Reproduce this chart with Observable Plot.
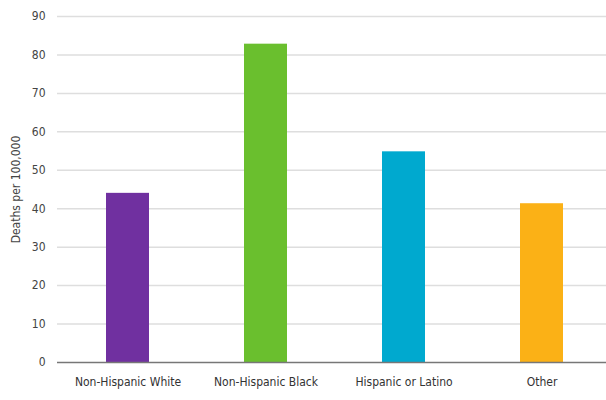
<!DOCTYPE html>
<html><head><meta charset="utf-8">
<script src="https://cdn.jsdelivr.net/npm/d3@7"></script>
<script src="https://cdn.jsdelivr.net/npm/@observablehq/plot@0.6"></script>
<style>
body{margin:0;background:#fff;}
svg{font-family:"Liberation Sans Narrow","DejaVu Sans Condensed",sans-serif;}
</style></head>
<body><div id="chart"></div>
<script>
const groups = ["Non-Hispanic White","Non-Hispanic Black","Hispanic or Latino","Other"];
const deaths = [44.0, 82.8, 54.8, 41.3];
const colors = ["#7030a0","#6abf2e","#00a9cf","#fbb116"];
const yTicks = [0,10,20,30,40,50,60,70,80,90];
const data = groups.map((g,i)=>({group:g, value:deaths[i]}));
const chart = Plot.plot({
  width:606, height:400,
  marginLeft:57, marginRight:0, marginTop:16, marginBottom:38,
  style:{fontSize:"12px", color:"#444"},
  x:{domain:groups, range:[105,563.5], paddingInner:0.69, paddingOuter:0},
  y:{domain:[0,90]},
  color:{domain:groups, range:colors},
  marks:[
    Plot.ruleY(yTicks.slice(1),{stroke:"#dedede", strokeWidth:1.5}),
    Plot.barY(data,{x:"group", y:"value", fill:"group"}),
    Plot.ruleY([0],{stroke:"#777", strokeWidth:1.5}),
    Plot.axisY(yTicks,{tickSize:0, tickPadding:12, label:"Deaths per 100,000", labelAnchor:"center", labelArrow:"none", labelOffset:46, fill:"#444"}),
    Plot.axisX({tickSize:0, tickPadding:15, label:null, fill:"#333"})
  ]
});
document.getElementById("chart").append(chart);
</script></body></html>
